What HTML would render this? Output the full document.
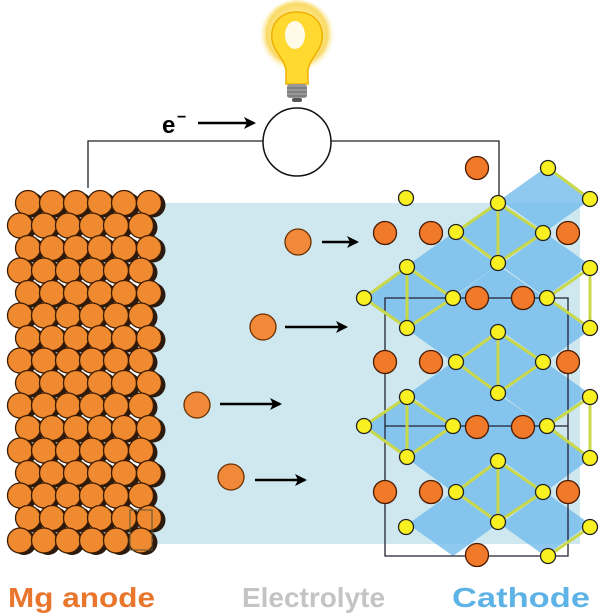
<!DOCTYPE html>
<html><head><meta charset="utf-8"><style>
html,body{margin:0;padding:0;background:#fff;width:600px;height:616px;overflow:hidden}
svg{display:block}
text{font-family:"Liberation Sans",Arial,sans-serif;font-weight:bold}
</style></head><body>
<svg width="600" height="616" viewBox="0 0 600 616" xmlns="http://www.w3.org/2000/svg">
<defs>
<radialGradient id="glow" cx="50%" cy="45%" r="50%">
<stop offset="0" stop-color="#fffbe0"/><stop offset="0.5" stop-color="#ffe050"/><stop offset="0.8" stop-color="#f5c000"/><stop offset="1" stop-color="#fff6c0" stop-opacity="0"/>
</radialGradient>
<g id="rE" stroke="#3a1a00" stroke-width="1.3">
<g fill="#2a1a10" stroke="none"><circle cx="32" cy="2" r="12.5"/><circle cx="56" cy="2" r="12.5"/><circle cx="80" cy="2" r="12.5"/><circle cx="104" cy="2" r="12.5"/><circle cx="128" cy="2" r="12.5"/><circle cx="153" cy="2" r="12.5"/></g>
<g fill="#f08a30"><circle cx="28" cy="0" r="12.5"/><circle cx="52" cy="0" r="12.5"/><circle cx="76" cy="0" r="12.5"/><circle cx="100" cy="0" r="12.5"/><circle cx="124" cy="0" r="12.5"/><circle cx="149" cy="0" r="12.5"/></g></g>
<g id="rO" stroke="#3a1a00" stroke-width="1.3">
<g fill="#2a1a10" stroke="none"><circle cx="24" cy="2" r="12.5"/><circle cx="48" cy="2" r="12.5"/><circle cx="72" cy="2" r="12.5"/><circle cx="96" cy="2" r="12.5"/><circle cx="120" cy="2" r="12.5"/><circle cx="145" cy="2" r="12.5"/></g>
<g fill="#f08a30"><circle cx="20" cy="0" r="12.5"/><circle cx="44" cy="0" r="12.5"/><circle cx="68" cy="0" r="12.5"/><circle cx="92" cy="0" r="12.5"/><circle cx="116" cy="0" r="12.5"/><circle cx="141" cy="0" r="12.5"/></g></g>
<marker id="ar" markerWidth="12" markerHeight="12" refX="10" refY="6" orient="auto" markerUnits="userSpaceOnUse"><path d="M0,0 L12,6 L0,12 L3,6z" fill="#000"/></marker>
</defs>
<rect x="150" y="203" width="430" height="341" fill="#cfe8f0"/>
<path d="M88,188 V141 H263 M331,141 H499 V203" fill="none" stroke="#222" stroke-width="1.3"/>
<circle cx="297" cy="142" r="34" fill="#fff" stroke="#111" stroke-width="1.5"/>
<circle cx="297" cy="38" r="38" fill="url(#glow)" opacity="0.6"/>
<path d="M297,12 C280,12 270,24 272,40 C274,52 284,58 286,70 L286,84 L308,84 L308,70 C310,58 320,52 322,40 C324,24 314,12 297,12z" fill="#ffd830" stroke="#f0b000" stroke-width="1.5"/>
<ellipse cx="295" cy="35" rx="10" ry="14" fill="#fffbe8"/>
<rect x="287" y="84" width="20" height="14" rx="3" fill="#999"/>
<path d="M287,88 H307 M287,92 H307 M287,96 H307" stroke="#666" stroke-width="1"/>
<rect x="292" y="98" width="10" height="4" rx="2" fill="#555"/>
<text x="162" y="133" font-size="24">e</text><text x="177" y="122" font-size="16">−</text>
<line x1="198" y1="123" x2="254" y2="123" stroke="#000" stroke-width="2.5" marker-end="url(#ar)"/>
<use href="#rE" y="203"/><use href="#rO" y="225.5"/><use href="#rE" y="248"/><use href="#rO" y="270.5"/>
<use href="#rE" y="293"/><use href="#rO" y="315.5"/><use href="#rE" y="338"/><use href="#rO" y="360.5"/>
<use href="#rE" y="383"/><use href="#rO" y="405.5"/><use href="#rE" y="428"/><use href="#rO" y="450.5"/>
<use href="#rE" y="473"/><use href="#rO" y="495.5"/><use href="#rE" y="518"/><use href="#rO" y="540.5"/>
<rect x="130" y="510" width="22" height="40" fill="none" stroke="#553" stroke-width="1"/>
<g fill="#f08a3a" stroke="#6a3000" stroke-width="1.3">
<circle cx="298" cy="242" r="13"/><circle cx="263" cy="327" r="13"/><circle cx="197" cy="405" r="13"/><circle cx="231" cy="477" r="13"/></g>
<g stroke="#000" stroke-width="2.5" marker-end="url(#ar)">
<line x1="322" y1="242" x2="357" y2="242"/><line x1="285" y1="327" x2="346" y2="327"/>
<line x1="220" y1="404" x2="280" y2="404"/><line x1="255" y1="480" x2="305" y2="480"/></g>
<g fill="#6cb8ec" opacity="0.75">
<path d="M545,168 L590,200 L545,232 L500,200z"/>
<path d="M498,203 L543,233 L498,263 L453,233z"/>
<path d="M453,233 L498,265 L453,297 L408,265z"/>
<path d="M545,233 L590,265 L545,297 L500,265z"/>
<path d="M407,267 L453,298 L407,328 L362,298z"/>
<path d="M498,265 L545,298 L498,332 L453,298z"/>
<path d="M453,298 L498,330 L453,362 L408,330z"/>
<path d="M545,298 L590,330 L545,362 L500,330z"/>
<path d="M498,332 L543,362 L498,393 L453,362z"/>
<path d="M453,362 L498,394 L453,426 L408,394z"/>
<path d="M545,362 L590,394 L545,426 L500,394z"/>
<path d="M407,397 L453,426 L407,457 L362,426z"/>
<path d="M498,394 L545,426 L498,461 L453,426z"/>
<path d="M453,426 L498,459 L453,492 L408,459z"/>
<path d="M545,426 L590,459 L545,492 L500,459z"/>
<path d="M498,461 L543,492 L498,522 L453,492z"/>
<path d="M453,492 L498,524 L453,556 L408,524z"/>
<path d="M545,492 L590,524 L545,556 L500,524z"/>
</g>
<path d="M385,298 H568 V556 H385z M385,426 H568" fill="none" stroke="#223" stroke-width="1.3"/>
<g stroke="#c8d84a" stroke-width="3" fill="none">
<path d="M456,232 L498,203 L543,233 L498,263z M498,203 V263"/>
<path d="M364,298 L407,267 L453,298 L407,328z M407,267 V328"/>
<path d="M456,362 L498,332 L543,362 L498,393z M498,332 V393"/>
<path d="M364,426 L407,397 L453,426 L407,457z M407,397 V457"/>
<path d="M456,492 L498,461 L543,492 L498,522z M498,461 V522"/>
<path d="M548,168 L590,199 M547,298 L590,268 V328 z M547,426 L590,397 V458 z M548,556 L590,527"/>
</g>
<g fill="#f07a2a" stroke="#4a1a00" stroke-width="1.3">
<circle cx="477" cy="168" r="11.5"/><circle cx="385" cy="233" r="11.5"/><circle cx="431" cy="233" r="11.5"/><circle cx="568" cy="233" r="11.5"/>
<circle cx="477" cy="298" r="11.5"/><circle cx="523" cy="298" r="11.5"/><circle cx="385" cy="362" r="11.5"/><circle cx="431" cy="362" r="11.5"/><circle cx="568" cy="362" r="11.5"/>
<circle cx="477" cy="427" r="11.5"/><circle cx="523" cy="427" r="11.5"/><circle cx="385" cy="492" r="11.5"/><circle cx="431" cy="492" r="11.5"/><circle cx="568" cy="492" r="11.5"/>
<circle cx="477" cy="555" r="11.5"/></g>
<g fill="#f8f020" stroke="#222" stroke-width="1.3">
<circle cx="548" cy="168" r="7.5"/><circle cx="590" cy="199" r="7.5"/><circle cx="406" cy="198" r="7.5"/><circle cx="498" cy="203" r="7.5"/>
<circle cx="456" cy="232" r="7.5"/><circle cx="543" cy="233" r="7.5"/><circle cx="498" cy="263" r="7.5"/><circle cx="407" cy="267" r="7.5"/><circle cx="590" cy="268" r="7.5"/>
<circle cx="364" cy="298" r="7.5"/><circle cx="453" cy="298" r="7.5"/><circle cx="547" cy="298" r="7.5"/><circle cx="407" cy="328" r="7.5"/><circle cx="498" cy="332" r="7.5"/><circle cx="590" cy="328" r="7.5"/>
<circle cx="456" cy="362" r="7.5"/><circle cx="543" cy="362" r="7.5"/><circle cx="498" cy="393" r="7.5"/><circle cx="407" cy="397" r="7.5"/><circle cx="590" cy="397" r="7.5"/>
<circle cx="364" cy="426" r="7.5"/><circle cx="453" cy="426" r="7.5"/><circle cx="547" cy="426" r="7.5"/><circle cx="407" cy="457" r="7.5"/><circle cx="498" cy="461" r="7.5"/><circle cx="590" cy="458" r="7.5"/>
<circle cx="456" cy="492" r="7.5"/><circle cx="543" cy="492" r="7.5"/><circle cx="498" cy="522" r="7.5"/><circle cx="406" cy="527" r="7.5"/><circle cx="590" cy="527" r="7.5"/><circle cx="548" cy="556" r="7.5"/>
</g>
<text x="8" y="607" font-size="28" fill="#e8762c" textLength="147" lengthAdjust="spacingAndGlyphs">Mg anode</text>
<text x="242" y="607" font-size="28" fill="#c4c4c4" textLength="143" lengthAdjust="spacingAndGlyphs">Electrolyte</text>
<text x="452" y="607" font-size="28" fill="#5db3e6" textLength="138" lengthAdjust="spacingAndGlyphs">Cathode</text>
</svg>
</body></html>
